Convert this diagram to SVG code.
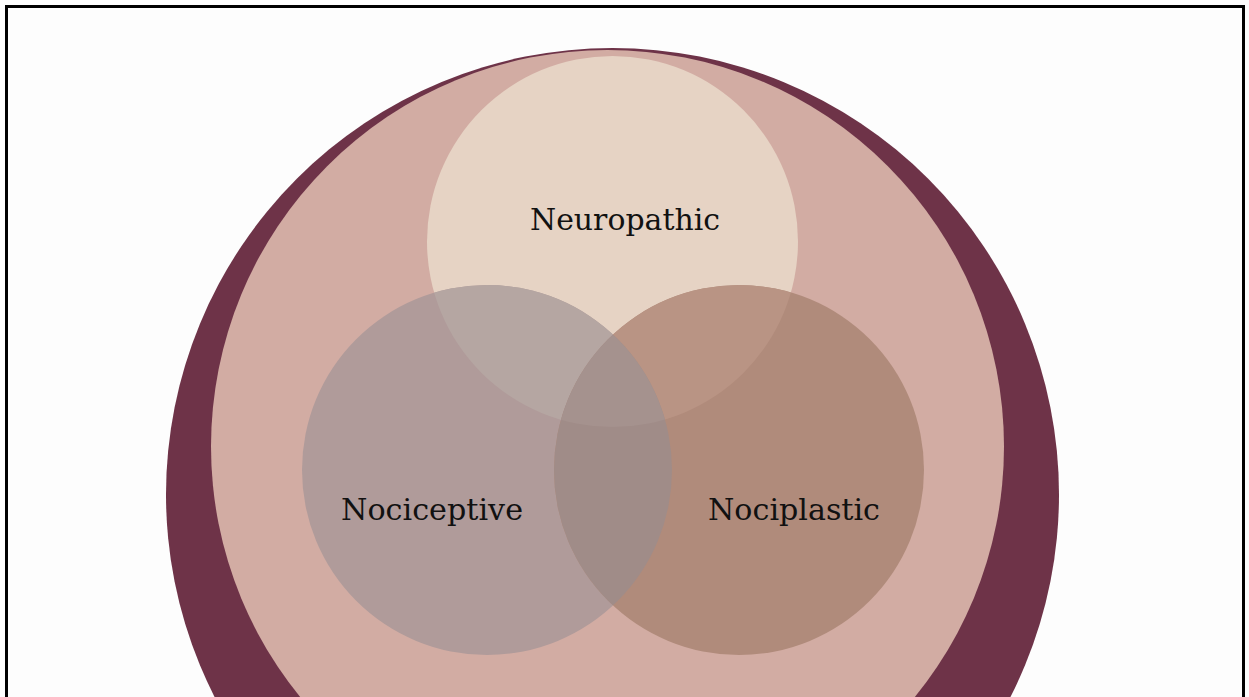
<svg xmlns="http://www.w3.org/2000/svg" width="1249" height="697" viewBox="0 0 1249 697">
  <style>
    .lbl { font-family: "DejaVu Serif", "Liberation Serif", serif; font-size: 29px; fill: #111111; }
  </style>
  <defs>
    <clipPath id="cNeuro"><circle cx="612.5" cy="241.5" r="185.5"/></clipPath>
    <clipPath id="cNoci"><circle cx="487" cy="470" r="185"/></clipPath>
    <clipPath id="cPlas"><circle cx="739" cy="470" r="185"/></clipPath>
  </defs>
  <rect x="0" y="0" width="1249" height="697" fill="#fdfdfd"/>
  <g id="outer">
    <circle cx="612.5" cy="494.5" r="446.5" fill="#6e3348"/>
  </g>
  <g id="inner">
    <circle cx="607.5" cy="446.5" r="396.5" fill="#d2aca3"/>
  </g>
  <g id="neuropathic">
    <circle cx="612.5" cy="241.5" r="185.5" fill="#e6d3c4"/>
  </g>
  <g id="nociceptive">
    <circle cx="487" cy="470" r="185" fill="#b09b9a"/>
  </g>
  <g id="nociplastic">
    <circle cx="739" cy="470" r="185" fill="#b08b7b"/>
  </g>
  <g id="overlaps">
    <circle cx="487" cy="470" r="185" fill="#b5a6a2" clip-path="url(#cNeuro)"/>
    <circle cx="739" cy="470" r="185" fill="#b99484" clip-path="url(#cNeuro)"/>
    <circle cx="739" cy="470" r="185" fill="#a08c88" clip-path="url(#cNoci)"/>
    <g clip-path="url(#cNeuro)">
      <circle cx="739" cy="470" r="185" fill="#a5928e" clip-path="url(#cNoci)"/>
    </g>
  </g>
  <g id="labels">
    <text class="lbl" x="530" y="230" textLength="190" lengthAdjust="spacingAndGlyphs">Neuropathic</text>
    <text class="lbl" x="341" y="520" textLength="182" lengthAdjust="spacingAndGlyphs">Nociceptive</text>
    <text class="lbl" x="708" y="520" textLength="172" lengthAdjust="spacingAndGlyphs">Nociplastic</text>
  </g>
  <g id="connectors"></g>
  <rect id="frame" x="6.5" y="6.5" width="1237" height="700" fill="none" stroke="#000000" stroke-width="3"/>
</svg>
